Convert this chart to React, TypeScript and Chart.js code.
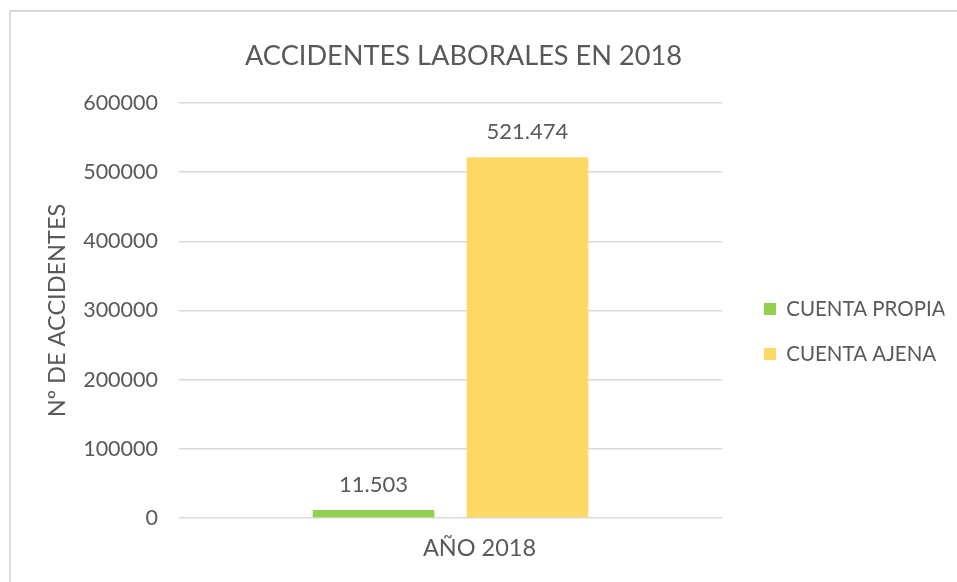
import React, { useEffect, useRef } from 'react';
import { Chart, registerables } from 'chart.js';

Chart.register(...registerables);

const categories = ['AÑO 2018'];
const seriesLabels = ['CUENTA PROPIA', 'CUENTA AJENA'];
const cuentaPropia = [11503];
const cuentaAjena = [521474];
const seriesColors = ['#92D050', '#FFD966'];
const yMin = 0;
const yMax = 600000;
const yStep = 100000;
const chartTitle = 'ACCIDENTES LABORALES EN 2018';
const yAxisTitle = 'Nº DE ACCIDENTES';

const FONT = 'Lato, "Open Sans", sans-serif';
const TEXT = '#595959';
const GRID = '#d9d9d9';

function formatEs(v: number): string {
  return String(Math.round(v)).replace(/\B(?=(\d{3})+(?!\d))/g, '.');
}

const valueLabels = {
  id: 'valueLabels',
  afterDatasetsDraw(chart: any) {
    const ctx = chart.ctx;
    ctx.save();
    ctx.font = `22px ${FONT}`;
    ctx.fillStyle = TEXT;
    ctx.textAlign = 'center';
    ctx.textBaseline = 'middle';
    chart.data.datasets.forEach((ds: any, i: number) => {
      chart.getDatasetMeta(i).data.forEach((el: any, j: number) => {
        ctx.fillText(formatEs(ds.data[j]), el.x, el.y - 25);
      });
    });
    ctx.restore();
  },
};

const legendNudge = {
  id: 'legendNudge',
  afterLayout(chart: any) {
    const l = chart.legend;
    if (!l) return;
    l.left += 17.5;
    l.right += 17.5;
    l.top += 21;
    l.bottom += 21;
  },
};

export default function App() {
  const ref = useRef<HTMLCanvasElement | null>(null);

  useEffect(() => {
    if (!ref.current) return;
    const chart = new Chart(ref.current, {
      type: 'bar',
      data: {
        labels: categories,
        datasets: [
          {
            label: seriesLabels[0],
            data: cuentaPropia,
            backgroundColor: seriesColors[0],
            categoryPercentage: 0.567,
            barPercentage: 0.79,
          },
          {
            label: seriesLabels[1],
            data: cuentaAjena,
            backgroundColor: seriesColors[1],
            categoryPercentage: 0.567,
            barPercentage: 0.79,
          },
        ],
      },
      options: {
        responsive: false,
        animation: false,
        layout: { padding: { left: 0, right: 30, top: 0, bottom: 0 } },
        plugins: {
          title: {
            display: true,
            text: chartTitle,
            color: TEXT,
            font: { family: FONT, size: 27.2, weight: 'normal' },
            padding: { top: 40, bottom: 30.4 },
          },
          legend: {
            position: 'right',
            fullSize: false,
            maxWidth: 205,
            labels: {
              boxWidth: 12,
              boxHeight: 12,
              padding: 24.5,
              color: TEXT,
              font: { family: FONT, size: 20.5 },
            },
          },
          tooltip: { enabled: false },
        },
        scales: {
          x: {
            grid: { display: false, drawTicks: false },
            border: { display: false },
            ticks: {
              color: TEXT,
              font: { family: FONT, size: 23.5 },
              padding: 16,
              labelOffset: 29,
            },
            afterFit: (s: any) => {
              s.height = 64;
            },
          },
          y: {
            min: yMin,
            max: yMax,
            ticks: {
              stepSize: yStep,
              color: TEXT,
              font: { family: FONT, size: 21.5 },
              padding: 21,
              callback: (v: any) => String(v),
            },
            grid: { color: GRID, lineWidth: 1.5, drawTicks: false },
            border: { display: false },
            title: {
              display: true,
              text: yAxisTitle,
              color: TEXT,
              font: { family: FONT, size: 23.5 },
              padding: { top: 43, bottom: 0 },
            },
            afterFit: (s: any) => {
              s.width = 179;
            },
          },
        },
      } as any,
      plugins: [valueLabels, legendNudge],
    });
    return () => chart.destroy();
  }, []);

  return (
    <div
      style={{
        position: 'absolute',
        left: 0,
        top: 0,
        width: 957,
        height: 582,
        overflow: 'hidden',
        background: '#fff',
      }}
    >
      <div
        style={{
          position: 'absolute',
          left: 9,
          top: 10,
          width: 1200,
          height: 1200,
          border: `2px solid ${GRID}`,
        }}
      />
      <canvas
        ref={ref}
        width={957}
        height={582}
        style={{ position: 'absolute', left: 0, top: 0, width: 957, height: 582 }}
      />
    </div>
  );
}
